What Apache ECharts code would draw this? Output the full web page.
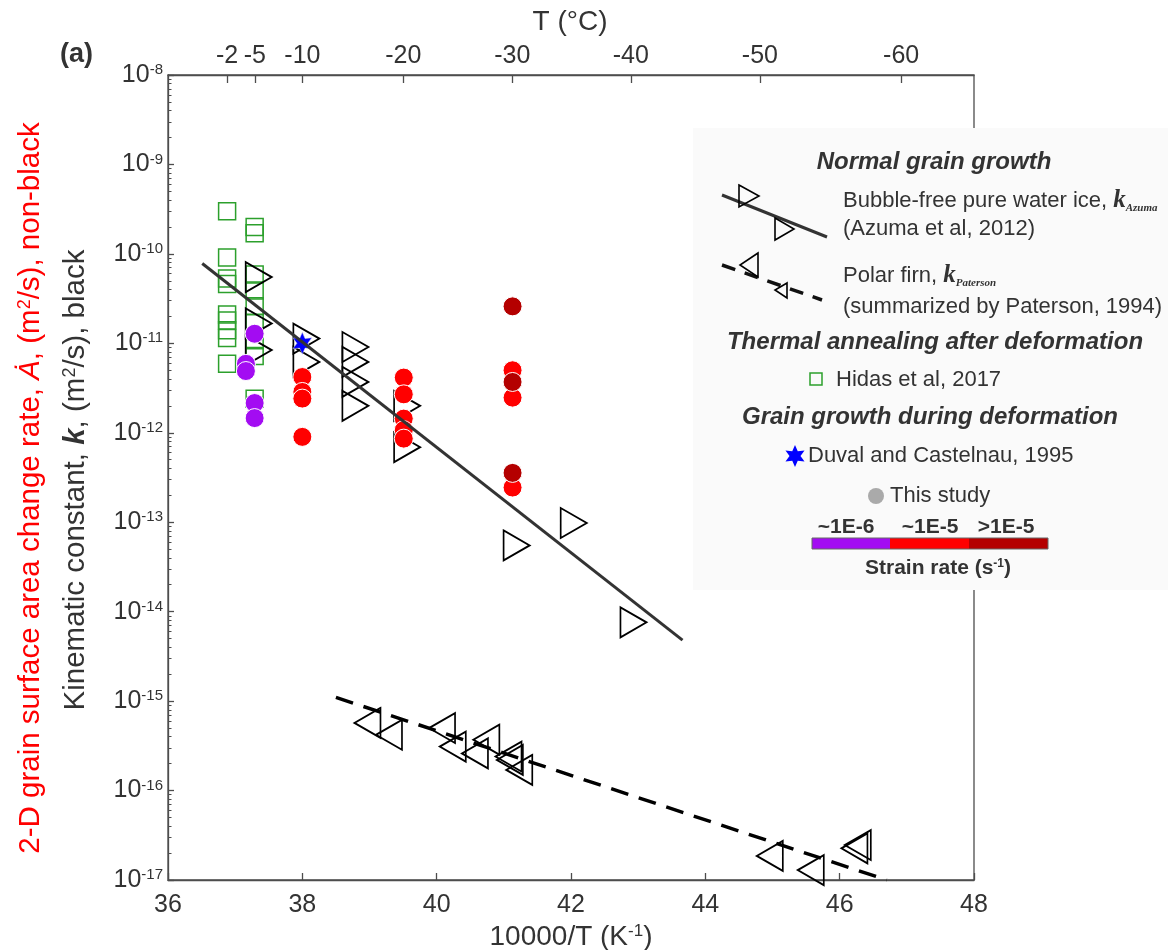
<!DOCTYPE html>
<html><head><meta charset="utf-8">
<script src="https://cdn.jsdelivr.net/npm/echarts@6/dist/echarts.min.js"></script>
<style>html,body{margin:0;padding:0;background:#fff}#c{width:1168px;height:950px}</style>
</head><body><div id="c"></div>
<script>
// ---------------- data ----------------
const xTickInterval = 2;            // bottom axis 36..48
const xMin = 36, xMax = 48;
const yMinExp = -17, yMaxExp = -8;  // log axis 1e-17..1e-8
const topTicksC = [-2, -5, -10, -20, -30, -40, -50, -60];   // T (°C) tick labels

// Hidas et al, 2017 (thermal annealing) - green squares
const hidasX = [36.88, 36.88, 36.88, 36.88, 36.88, 36.88, 36.88, 36.88, 36.88,
                37.29, 37.29, 37.29, 37.29, 37.29, 37.29, 37.29, 37.29, 37.29];
const hidasK = [3.0e-10, 9.1e-11, 5.3e-11, 4.6e-11, 2.1e-11, 1.8e-11, 1.4e-11, 1.15e-11, 5.9e-12,
                2.0e-10, 1.7e-10, 5.9e-11, 3.9e-11, 2.6e-11, 1.7e-11, 1.08e-11, 7.2e-12, 2.4e-12];

// Azuma et al, 2012 - right-pointing triangles
const azumaX = [37.35, 37.35, 37.35, 38.06, 38.06, 38.79, 38.79, 38.79, 38.79, 39.56, 39.56, 41.19, 42.04, 42.93];
const azumaK = [5.5e-11, 1.67e-11, 8.4e-12, 1.13e-11, 6.2e-12, 9.1e-12, 6.2e-12, 3.7e-12, 2.0e-12, 2.0e-12, 6.9e-13, 5.5e-14, 9.8e-14, 7.6e-15];

// Paterson, 1994 - left-pointing triangles
const patersonX = [38.97, 39.29, 40.08, 40.24, 40.74, 40.57, 41.07, 41.09, 41.23, 44.96, 45.57, 46.22, 46.27];
const patersonK = [5.7e-16, 4.2e-16, 5.0e-16, 3.1e-16, 3.7e-16, 2.6e-16, 2.4e-16, 2.2e-16, 1.7e-16, 1.86e-17, 1.29e-17, 2.26e-17, 2.46e-17];

// This study - strain rate ~1E-6 (purple)
const rateLowX = [37.16, 37.16, 37.29, 37.29, 37.29];
const rateLowA = [5.9e-12, 4.9e-12, 1.28e-11, 2.15e-12, 1.46e-12];
// ~1E-5 (red)
const rateMidX = [38.0, 38.0, 38.0, 38.0, 39.51, 39.51, 39.51, 39.51, 39.51, 41.13, 41.13, 41.13];
const rateMidA = [4.2e-12, 2.86e-12, 2.41e-12, 9.0e-13, 4.14e-12, 2.69e-12, 1.44e-12, 1.07e-12, 8.6e-13, 5.0e-12, 2.47e-12, 2.44e-13];
// >1E-5 (dark red)
const rateHighX = [41.13, 41.13, 41.13];
const rateHighA = [2.59e-11, 3.7e-12, 3.56e-13];

// Duval and Castelnau, 1995
const duvalX = [38.0];
const duvalK = [1.0e-11];

// fitted lines
const azumaFitX = [36.51, 43.66];
const azumaFitK = [7.8e-11, 4.8e-15];
const patersonFitX = [38.5, 46.7];
const patersonFitK = [1.1e-15, 1.0e-17];

// ---------------- chart ----------------
const FONT = "'Liberation Sans', Arial, sans-serif";
const SERIF = "'Liberation Serif', 'Times New Roman', serif";
const TXT = '#333333';
const AX = '#4d4d4d';
const pts = (xs, ys) => xs.map((x, i) => [x, ys[i]]);

const minorLogs = [];
for (let d = yMinExp; d < yMaxExp; d++) for (let m = 2; m <= 9; m++) minorLogs.push(d + Math.log10(m));
const topTickVals = topTicksC.map(t => 10000 / (t + 273.15));

const RIGHT_TRI = 'path://M0,0L1,0.5L0,1Z';
const LEFT_TRI = 'path://M1,0L0,0.5L1,1Z';
const STAR = 'path://M0,-1L0.25,-0.433L0.866,-0.5L0.5,0L0.866,0.5L0.25,0.433L0,1L-0.25,0.433L-0.866,0.5L-0.5,0L-0.866,-0.5L-0.25,-0.433Z';

function starPts(cx, cy, R) {
  const out = [];
  for (let i = 0; i < 12; i++) {
    const a = -Math.PI / 2 + i * Math.PI / 6;
    const r = i % 2 === 0 ? R : R * 0.5;
    out.push([cx + r * Math.cos(a), cy + r * Math.sin(a)]);
  }
  return out;
}

function txt(x, y, text, opts) {
  opts = opts || {};
  const st = Object.assign({
    text: text, fill: TXT, fontFamily: FONT, fontSize: 22,
    align: 'left', verticalAlign: 'middle', textAlign: 'left', textVerticalAlign: 'middle'
  }, opts);
  if (opts.align) st.textAlign = opts.align;
  delete st.rotation;
  return { type: 'text', x: x, y: y, z: 101, rotation: opts.rotation || 0, style: st };
}
function ctxt(x, y, text, opts) { return txt(x, y, text, Object.assign({ align: 'center' }, opts || {})); }

const legendBI = { fontSize: 24, fontWeight: 'bold', fontStyle: 'italic' };
const kRich = {
  n: { fontFamily: FONT, fontSize: 22, fill: TXT },
  k: { fontFamily: SERIF, fontSize: 25, fontWeight: 'bold', fontStyle: 'italic', fill: TXT },
  s: { fontFamily: SERIF, fontSize: 11, fontStyle: 'italic', fontWeight: 'bold', fill: TXT, verticalAlign: 'bottom' }
};
const RED = '#ff0000';
const TITLE = 29.5, TITLE_SUP = 18;

const graphics = [
  { type: 'rect', z: 100, shape: { x: 693, y: 128, width: 480, height: 462 }, style: { fill: '#fafafa', stroke: null } },
  ctxt(934, 162, 'Normal grain growth', legendBI),
  { type: 'line', z: 101, shape: { x1: 722, y1: 195, x2: 827, y2: 237 }, style: { stroke: '#333', lineWidth: 3 } },
  { type: 'polygon', z: 102, shape: { points: [[739, 185], [759, 196], [739, 207]] }, style: { fill: 'none', stroke: '#000', lineWidth: 1.6 } },
  { type: 'polygon', z: 102, shape: { points: [[775, 218], [794, 229], [775, 240]] }, style: { fill: 'none', stroke: '#000', lineWidth: 1.6 } },
  txt(843, 201, '{n|Bubble-free pure water ice, }{k|k}{s|Azuma}', { rich: kRich }),
  txt(843, 229, '(Azuma et al, 2012)'),
  { type: 'line', z: 101, shape: { x1: 722, y1: 265, x2: 822, y2: 300 }, style: { stroke: '#111', lineWidth: 3.5, lineDash: [14, 10] } },
  { type: 'polygon', z: 102, shape: { points: [[758, 253], [740, 265], [758, 277]] }, style: { fill: 'none', stroke: '#000', lineWidth: 1.6 } },
  { type: 'polygon', z: 102, shape: { points: [[787, 283], [775, 290], [787, 298]] }, style: { fill: 'none', stroke: '#000', lineWidth: 1.6 } },
  txt(843, 276, '{n|Polar firn, }{k|k}{s|Paterson}', { rich: kRich }),
  txt(843, 307, '(summarized by Paterson, 1994)'),
  ctxt(935, 342, 'Thermal annealing after deformation', legendBI),
  { type: 'rect', z: 102, shape: { x: 810, y: 373, width: 12, height: 12 }, style: { fill: 'none', stroke: '#2ca02c', lineWidth: 1.5 } },
  txt(836, 380, 'Hidas et al, 2017'),
  ctxt(930, 417, 'Grain growth during deformation', legendBI),
  { type: 'polygon', z: 102, shape: { points: starPts(795, 456, 11) }, style: { fill: '#0000ff', stroke: null } },
  txt(808, 456, 'Duval and Castelnau, 1995'),
  { type: 'circle', z: 102, shape: { cx: 876, cy: 496, r: 8 }, style: { fill: '#aaaaaa' } },
  txt(890, 496, 'This study'),
  ctxt(846, 527, '~1E-6', { fontSize: 21, fontWeight: 'bold' }),
  ctxt(930, 527, '~1E-5', { fontSize: 21, fontWeight: 'bold' }),
  ctxt(1006, 527, '>1E-5', { fontSize: 21, fontWeight: 'bold' }),
  { type: 'rect', z: 102, shape: { x: 812, y: 538, width: 78, height: 11 }, style: { fill: '#a30cf2' } },
  { type: 'rect', z: 102, shape: { x: 890, y: 538, width: 79, height: 11 }, style: { fill: '#ff0000' } },
  { type: 'rect', z: 102, shape: { x: 969, y: 538, width: 79, height: 11 }, style: { fill: '#b40000' } },
  { type: 'rect', z: 103, shape: { x: 812, y: 538, width: 236, height: 11 }, style: { fill: 'none', stroke: '#666', lineWidth: 1 } },
  ctxt(938, 568, '{a|Strain rate (s}{e|-1}{a|)}', { fontSize: 21, fontWeight: 'bold', rich: {
    a: { fontFamily: FONT, fontSize: 21, fontWeight: 'bold', fill: TXT },
    e: { fontFamily: FONT, fontSize: 12, fontWeight: 'bold', fill: TXT, verticalAlign: 'top' } } }),
  // titles
  txt(60, 55, '(a)', { fontSize: 27, fontWeight: 'bold' }),
  ctxt(570, 22, 'T (°C)', { fontSize: 28 }),
  ctxt(31, 488, '{a|2-D grain surface area change rate, }{i|Ȧ}{a|, (m}{e|2}{a|/s), non-black}', {
    rotation: Math.PI / 2, fill: RED, rich: {
      a: { fontFamily: FONT, fontSize: TITLE, fill: RED },
      i: { fontFamily: FONT, fontSize: TITLE, fontStyle: 'italic', fill: RED },
      e: { fontFamily: FONT, fontSize: TITLE_SUP, fill: RED, verticalAlign: 'top' } } }),
  ctxt(76, 480, '{a|Kinematic constant, }{k|k}{a|, (m}{e|2}{a|/s), black}', {
    rotation: Math.PI / 2, rich: {
      a: { fontFamily: FONT, fontSize: TITLE, fill: TXT },
      k: { fontFamily: FONT, fontSize: TITLE, fontWeight: 'bold', fontStyle: 'italic', fill: TXT },
      e: { fontFamily: FONT, fontSize: TITLE_SUP, fill: TXT, verticalAlign: 'top' } } })
];

const hollow = c => ({ color: 'rgba(0,0,0,0)', borderColor: c, borderWidth: 1.8, opacity: 1 });
const common = { silent: true, emphasis: { disabled: true }, animation: false };

const option = {
  animation: false,
  grid: { left: 168, right: 194, top: 75, bottom: 70, containLabel: false, outerBoundsMode: 'none',
          show: true, borderColor: AX, borderWidth: 1.3, backgroundColor: 'transparent' },
  xAxis: [
    { type: 'value', position: 'bottom', min: xMin, max: xMax, interval: xTickInterval,
      axisLine: { show: true, lineStyle: { color: AX, width: 1.3 } },
      axisTick: { show: true, inside: true, length: 7, lineStyle: { color: AX, width: 1.3 } },
      axisLabel: { color: TXT, fontSize: 25, fontFamily: FONT, margin: 13 },
      splitLine: { show: false },
      name: '10000/T (K{e|-1})', nameLocation: 'middle', nameGap: 36,
      nameTextStyle: { color: TXT, fontSize: 28, fontFamily: FONT,
        rich: { e: { fontSize: 17, fontFamily: FONT, color: TXT, verticalAlign: 'top' } } } },
    { type: 'value', position: 'top', min: xMin, max: xMax,
      axisLine: { show: true, lineStyle: { color: AX, width: 1.3 } },
      axisTick: { show: true, inside: true, length: 8, customValues: topTickVals, lineStyle: { color: AX, width: 1.3 } },
      axisLabel: { color: TXT, fontSize: 25, fontFamily: FONT, margin: 6, customValues: topTickVals,
        formatter: v => String(Math.round(10000 / v - 273.15)) },
      splitLine: { show: false } }
  ],
  yAxis: [
    { type: 'log', logBase: 10, min: Math.pow(10, yMinExp), max: Math.pow(10, yMaxExp), splitNumber: 9,
      position: 'left',
      axisLine: { show: true, lineStyle: { color: AX, width: 1.3 } },
      axisTick: { show: true, inside: true, length: 6, lineStyle: { color: AX, width: 1.3 } },
      axisLabel: { margin: 5, showMinLabel: true, showMaxLabel: true, hideOverlap: false,
        formatter: v => '{b|10}{e|' + Math.round(Math.log10(v)) + '}',
        rich: { b: { fontSize: 25, fontFamily: FONT, color: TXT },
                e: { fontSize: 15, fontFamily: FONT, color: TXT, verticalAlign: 'top' } } },
      splitLine: { show: false }, minorTick: { show: false } },
    { type: 'value', min: yMinExp, max: yMaxExp, position: 'left',
      axisLine: { show: false },
      axisTick: { show: true, inside: true, length: 3.5, customValues: minorLogs, lineStyle: { color: AX, width: 1 } },
      axisLabel: { show: false }, splitLine: { show: false } }
  ],
  series: [
    Object.assign({ type: 'scatter', name: 'Hidas', data: pts(hidasX, hidasK), symbol: 'rect', symbolSize: 17,
      itemStyle: Object.assign(hollow('#2ca02c'), { borderWidth: 1.5 }), z: 2 }, common),
    Object.assign({ type: 'scatter', name: 'Azuma', data: pts(azumaX, azumaK), symbol: RIGHT_TRI, symbolSize: [26, 30],
      itemStyle: hollow('#000'), z: 3 }, common),
    Object.assign({ type: 'scatter', name: 'Paterson', data: pts(patersonX, patersonK), symbol: LEFT_TRI, symbolSize: [26, 30],
      itemStyle: hollow('#000'), z: 3 }, common),
    Object.assign({ type: 'scatter', name: '~1E-6', data: pts(rateLowX, rateLowA), symbol: 'circle', symbolSize: 19,
      itemStyle: { color: '#a30cf2', borderColor: '#fff', borderWidth: 1, opacity: 1 }, z: 4 }, common),
    Object.assign({ type: 'scatter', name: '~1E-5', data: pts(rateMidX, rateMidA), symbol: 'circle', symbolSize: 19,
      itemStyle: { color: '#ff0000', borderColor: '#fff', borderWidth: 1, opacity: 1 }, z: 4 }, common),
    Object.assign({ type: 'scatter', name: '>1E-5', data: pts(rateHighX, rateHighA), symbol: 'circle', symbolSize: 19,
      itemStyle: { color: '#b40000', borderColor: '#fff', borderWidth: 1, opacity: 1 }, z: 4 }, common),
    Object.assign({ type: 'scatter', name: 'Duval', data: pts(duvalX, duvalK), symbol: STAR, symbolSize: [19, 22],
      itemStyle: { color: '#0000ff', borderColor: '#ddd', borderWidth: 0.5, opacity: 1 }, z: 5 }, common),
    Object.assign({ type: 'line', name: 'Azuma fit', data: pts(azumaFitX, azumaFitK), symbol: 'none',
      lineStyle: { color: '#333', width: 3 }, z: 6 }, common),
    Object.assign({ type: 'line', name: 'Paterson fit', data: pts(patersonFitX, patersonFitK), symbol: 'none',
      lineStyle: { color: '#000', width: 3.5, type: [18, 11] }, z: 6 }, common)
  ],
  graphic: { elements: graphics }
};

const chart = echarts.init(document.getElementById('c'), null, { renderer: 'canvas' });
chart.setOption(option);
</script></body></html>
